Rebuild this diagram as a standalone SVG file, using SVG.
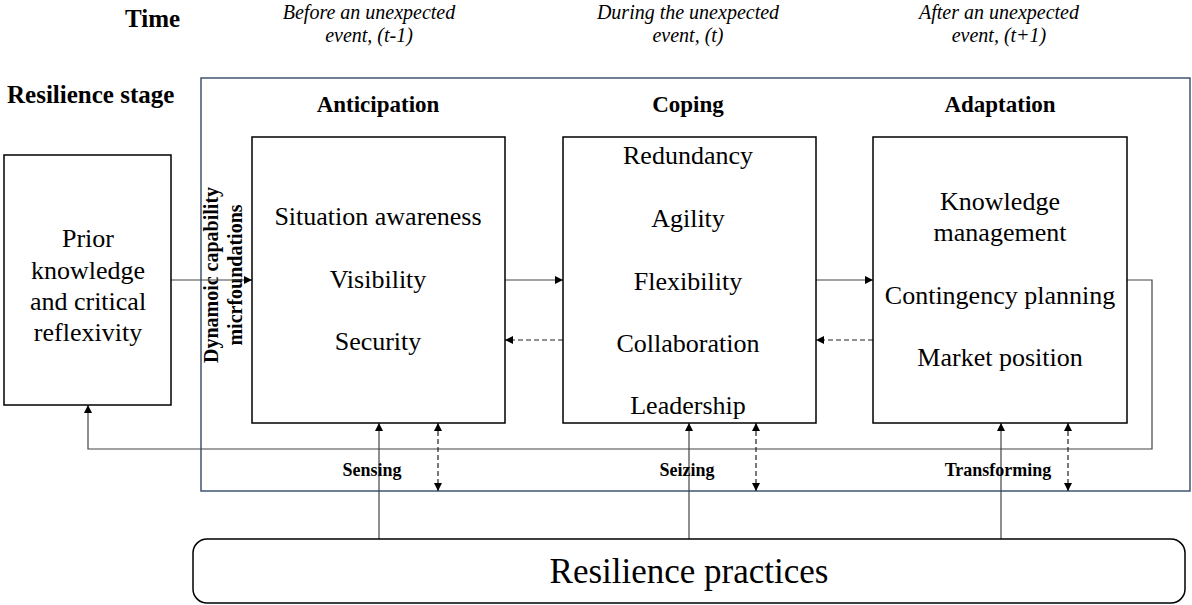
<svg xmlns="http://www.w3.org/2000/svg" width="1192" height="605" viewBox="0 0 1192 605">
  <style>
    text { font-family: "Liberation Serif", "Times New Roman", serif; fill: #000; }
    .row { font-size: 25px; font-weight: bold; }
    .time { font-size: 20px; font-style: italic; text-anchor: middle; }
    .stage { font-size: 23px; font-weight: bold; text-anchor: middle; }
    .item { font-size: 26px; text-anchor: middle; }
    .cap { font-size: 18px; font-weight: bold; text-anchor: middle; }
    .vert { font-size: 20px; font-weight: bold; text-anchor: middle; }
    .box { fill: #fff; stroke: #000; stroke-width: 1.5; }
    .frame { fill: none; stroke: #3f5473; stroke-width: 1.5; }
    .solid { fill: none; stroke: #444; stroke-width: 1.2; }
    .dash { fill: none; stroke: #222; stroke-width: 1.2; stroke-dasharray: 5 3; }
  </style>
  <defs>
    <marker id="arrow" viewBox="0 0 10 10" refX="10" refY="5" markerWidth="8" markerHeight="8" markerUnits="userSpaceOnUse" orient="auto-start-reverse">
      <path d="M0,0 L10,5 L0,10 z" fill="#000"/>
    </marker>
  </defs>

  <!-- row labels and time headings -->
  <g id="labels">
    <text class="row" x="125" y="27">Time</text>
    <text class="row" x="7" y="103">Resilience stage</text>
    <text class="time" x="369" y="19">Before an unexpected</text>
    <text class="time" x="369" y="42">event, (t-1)</text>
    <text class="time" x="688" y="19">During the unexpected</text>
    <text class="time" x="688" y="42">event, (t)</text>
    <text class="time" x="999" y="19">After an unexpected</text>
    <text class="time" x="999" y="42">event, (t+1)</text>
  </g>

  <!-- dynamic capability frame -->
  <g id="frame">
    <rect class="frame" x="201" y="78" width="989" height="413"/>
    <text class="stage" x="378" y="112">Anticipation</text>
    <text class="stage" x="688" y="112">Coping</text>
    <text class="stage" x="1000" y="112">Adaptation</text>
    <g transform="translate(218,275) rotate(-90)">
      <text class="vert" x="0" y="0">Dynamoic capability</text>
      <text class="vert" x="0" y="24">micrfoundations</text>
    </g>
  </g>

  <!-- connectors -->
  <g id="connectors">
    <path class="solid" d="M171,280 H252" marker-end="url(#arrow)"/>
    <path class="solid" d="M505,280 H563" marker-end="url(#arrow)"/>
    <path class="solid" d="M816,280 H873" marker-end="url(#arrow)"/>
    <path class="dash" d="M563,340 H505" marker-end="url(#arrow)"/>
    <path class="dash" d="M873,340 H816" marker-end="url(#arrow)"/>
    <path class="solid" d="M1127,280 H1152 V449 H88 V405" marker-end="url(#arrow)"/>
    <path class="solid" d="M379,539 V423" marker-end="url(#arrow)"/>
    <path class="solid" d="M689,539 V423" marker-end="url(#arrow)"/>
    <path class="solid" d="M1001,539 V423" marker-end="url(#arrow)"/>
    <path class="dash" d="M438,423 V491" marker-start="url(#arrow)" marker-end="url(#arrow)"/>
    <path class="dash" d="M756,423 V491" marker-start="url(#arrow)" marker-end="url(#arrow)"/>
    <path class="dash" d="M1068,423 V491" marker-start="url(#arrow)" marker-end="url(#arrow)"/>
  </g>

  <g id="capability-labels">
    <text class="cap" x="372" y="476">Sensing</text>
    <text class="cap" x="687" y="476">Seizing</text>
    <text class="cap" x="998" y="476">Transforming</text>
  </g>

  <!-- prior knowledge -->
  <g id="prior">
    <rect class="box" x="4" y="155" width="167" height="250"/>
    <text class="item" x="88" y="247">Prior</text>
    <text class="item" x="88" y="279">knowledge</text>
    <text class="item" x="88" y="310">and critical</text>
    <text class="item" x="88" y="341">reflexivity</text>
  </g>

  <!-- anticipation -->
  <g id="anticipation">
    <rect class="box" x="252" y="137" width="253" height="286"/>
    <text class="item" x="378" y="225">Situation awareness</text>
    <text class="item" x="378" y="288">Visibility</text>
    <text class="item" x="378" y="350">Security</text>
  </g>

  <!-- coping -->
  <g id="coping">
    <rect class="box" x="563" y="137" width="253" height="286"/>
    <text class="item" x="688" y="164">Redundancy</text>
    <text class="item" x="688" y="227">Agility</text>
    <text class="item" x="688" y="290">Flexibility</text>
    <text class="item" x="688" y="352">Collaboration</text>
    <text class="item" x="688" y="414">Leadership</text>
  </g>

  <!-- adaptation -->
  <g id="adaptation">
    <rect class="box" x="873" y="137" width="254" height="286"/>
    <text class="item" x="1000" y="210">Knowledge</text>
    <text class="item" x="1000" y="241">management</text>
    <text class="item" x="1000" y="304">Contingency planning</text>
    <text class="item" x="1000" y="366">Market position</text>
  </g>

  <!-- resilience practices -->
  <g id="practices">
    <rect class="box" x="193" y="539" width="992" height="64" rx="14" ry="14"/>
    <text class="item" x="689" y="583" style="font-size:35px">Resilience practices</text>
  </g>
</svg>
